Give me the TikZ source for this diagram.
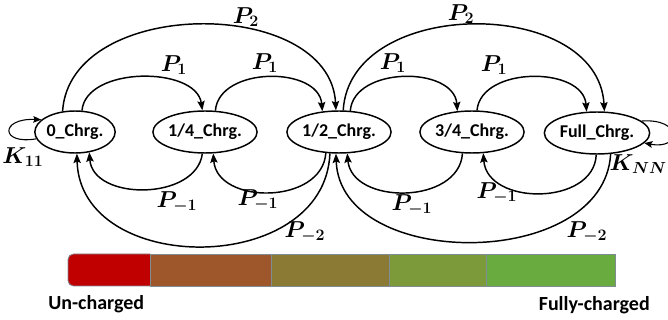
\documentclass[tikz,border=0pt]{standalone}
\usepackage{fontspec}
\setmainfont{Carlito}
\usetikzlibrary{shapes.geometric,arrows.meta}
\definecolor{barred}{HTML}{C00000}
\definecolor{barbrown}{HTML}{9E572B}
\definecolor{barolive}{HTML}{8B7A34}
\definecolor{bargreenA}{HTML}{7D9A3B}
\definecolor{bargreenB}{HTML}{6AAB40}
\definecolor{barline}{HTML}{7F8C94}
\tikzset{
  statebox/.style={draw, ellipse, line width=1.1pt, inner sep=0pt,
    minimum height=31.5pt, font=\fontsize{13.5}{15}\selectfont\bfseries},
  trans/.style={line width=1.1pt, -{Stealth[length=7pt,width=5.5pt,inset=1.2pt]}},
  selfloop/.style={line width=0.8pt, -{Stealth[length=6pt,width=5pt,inset=1pt]}},
  rate/.style={font=\fontsize{17}{20}\selectfont\boldmath, inner sep=0pt},
  legend/.style={font=\fontsize{15}{18}\selectfont\bfseries, inner sep=0pt},
  segment/.style={draw=barline, line width=0.6pt}
}
\begin{document}
\begin{tikzpicture}[x=0.75pt,y=-0.75pt]
\useasboundingbox (0,0) rectangle (668,320);

% charge states
\node[statebox, minimum width=58.5pt] (n0) at (75,132) {0\_Chrg.};
\node[statebox, minimum width=56.5pt] (n1) at (205,132) {1/4\_Chrg.};
\node[statebox, minimum width=63.5pt] (n2) at (339,132) {1/2\_Chrg.};
\node[statebox, minimum width=64pt]   (n3) at (472,132) {3/4\_Chrg.};
\node[statebox, minimum width=63.5pt] (n4) at (597,133) {Full\_Chrg.};

% two-step charging
\draw[trans] (n0.121) .. controls (70,-4) and (330,-4) .. (n2.98);
\draw[trans] (n2.79) .. controls (350,-4) and (598,-4) .. (n4.71);

% one-step charging
\draw[trans] (n0.72) .. controls (86,66) and (196,66) .. (n1.97);
\draw[trans] (n1.64) .. controls (219,66) and (319,66) .. (n2.129);
\draw[trans] (n2.62) .. controls (354,66) and (454,66) .. (n3.125);
\draw[trans] (n3.77) .. controls (481,66) and (583,66) .. (n4.116);

% one-step discharging
\draw[trans] (n1.263) .. controls (196,201) and (93,201) .. (n0.305);
\draw[trans] (n2.238) .. controls (322,205) and (217,205) .. (n1.291);
\draw[trans] (n3.246) .. controls (459,205) and (352,205) .. (n2.291);
\draw[trans] (n4.268) .. controls (594,206) and (487,206) .. (n3.298);

% two-step discharging
\draw[trans] (n2.247) .. controls (325,277) and (80,277) .. (n0.275);
\draw[trans] (n4.303) .. controls (604,271) and (340,271) .. (n2.262);

% staying in the end states
\draw[selfloop] (n0.190) .. controls (0,145) and (0,118) .. (n0.160);
\draw[selfloop] (n4.15) .. controls (682,118) and (682,150) .. (n4.348);

% transition labels
\node[rate] (p2a) at (246,17) {$P_{2}$};
\node[rate] (p2b) at (461,14) {$P_{2}$};
\node[rate] (p1a) at (174,65) {$P_{1}$};
\node[rate] (p1b) at (265,63) {$P_{1}$};
\node[rate] (p1c) at (393,63) {$P_{1}$};
\node[rate] (p1d) at (494,65) {$P_{1}$};
\node[rate] (m1a) at (177,202) {$P_{-1}$};
\node[rate] (m1b) at (258,200) {$P_{-1}$};
\node[rate] (m1c) at (412,205) {$P_{-1}$};
\node[rate] (m1d) at (497,193) {$P_{-1}$};
\node[rate] (m2a) at (305,232) {$P_{-2}$};
\node[rate] (m2b) at (587,232) {$P_{-2}$};
\node[rate] (k11) at (23,157) {$K_{11}$};
\node[rate, anchor=east] (knn) at (667,164) {$K_{NN}$};

% charge level bar
\fill[barred, rounded corners=4pt] (68,254) rectangle (156,286);
\fill[barred] (140,254) rectangle (150,286);
\draw[segment, rounded corners=4pt] (150,254) -- (68,254) -- (68,286) -- (150,286);
\draw[segment, fill=barbrown]  (150,254) rectangle (271,286);
\draw[segment, fill=barolive]  (271,254) rectangle (389,286);
\draw[segment, fill=bargreenA] (389,254) rectangle (486,286);
\draw[segment, fill=bargreenB] (486,254) rectangle (615,286);

\node[legend, anchor=west] (unch) at (48,304) {Un-charged};
\node[legend, anchor=east] (fullch) at (650,305) {Fully-charged};
\end{tikzpicture}
\end{document}
